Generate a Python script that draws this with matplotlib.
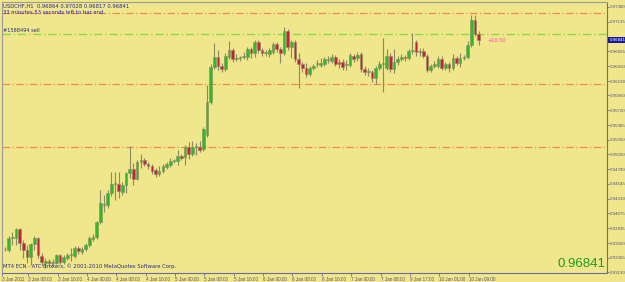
"""USDCHF H1 candlestick chart, MT4 style."""

import matplotlib
matplotlib.use("Agg")
import matplotlib.pyplot as plt
import numpy as np

# ---- data ----
opens = [
    0.93506, 0.93490, 0.93682, 0.93682, 0.93826, 0.93602, 0.93490, 0.93378, 0.93586, 0.93682,
    0.93394, 0.93282, 0.93314, 0.93282, 0.93282, 0.93410, 0.93298, 0.93362, 0.93410, 0.93394,
    0.93522, 0.93458, 0.93506, 0.93570, 0.93666, 0.93698, 0.93938, 0.94210, 0.94210, 0.94402,
    0.94546, 0.94546, 0.94418, 0.94530, 0.94722, 0.94786, 0.94626, 0.94898, 0.94930, 0.94866,
    0.94834, 0.94770, 0.94706, 0.94754, 0.94818, 0.94850, 0.94914, 0.94914, 0.94994, 0.94978,
    0.95138, 0.95026, 0.95138, 0.95138, 0.95106, 0.95330, 0.95858, 0.96418, 0.96578, 0.96434,
    0.96386, 0.96578, 0.96690, 0.96546, 0.96562, 0.96578, 0.96578, 0.96706, 0.96642, 0.96818,
    0.96690, 0.96642, 0.96626, 0.96658, 0.96786, 0.96706, 0.96642, 0.96994, 0.96738, 0.96818,
    0.96546, 0.96466, 0.96402, 0.96306, 0.96402, 0.96466, 0.96450, 0.96466, 0.96530, 0.96514,
    0.96578, 0.96498, 0.96498, 0.96450, 0.96450, 0.96594, 0.96562, 0.96626, 0.96386, 0.96338,
    0.96338, 0.96242, 0.96402, 0.96466, 0.96402, 0.96594, 0.96386, 0.96498, 0.96546, 0.96578,
    0.96562, 0.96674, 0.96818, 0.96658, 0.96674, 0.96594, 0.96370, 0.96434, 0.96434, 0.96546,
    0.96402, 0.96466, 0.96402, 0.96562, 0.96482, 0.96562, 0.96578, 0.96770, 0.97170, 0.96946,
]
highs = [
    0.93538, 0.93714, 0.93778, 0.93842, 0.93842, 0.93650, 0.93570, 0.93602, 0.93714, 0.93698,
    0.93442, 0.93362, 0.93346, 0.93346, 0.93426, 0.93426, 0.93410, 0.93442, 0.93522, 0.93554,
    0.93554, 0.93538, 0.93602, 0.93714, 0.93746, 0.93954, 0.94450, 0.94370, 0.94450, 0.94738,
    0.94738, 0.94738, 0.94578, 0.94738, 0.95154, 0.94882, 0.94930, 0.95026, 0.94962, 0.94898,
    0.94866, 0.94802, 0.94834, 0.94866, 0.94898, 0.94962, 0.94946, 0.95090, 0.95026, 0.95170,
    0.95218, 0.95234, 0.95202, 0.95234, 0.95458, 0.96130, 0.96466, 0.96802, 0.96690, 0.96482,
    0.96642, 0.96834, 0.96722, 0.96626, 0.96594, 0.96658, 0.96738, 0.96738, 0.96850, 0.96850,
    0.96722, 0.96690, 0.96722, 0.96818, 0.96818, 0.96738, 0.97058, 0.97026, 0.96850, 0.96850,
    0.96642, 0.96498, 0.96482, 0.96434, 0.96466, 0.96530, 0.96562, 0.96578, 0.96594, 0.96626,
    0.96610, 0.96546, 0.96546, 0.96530, 0.96642, 0.96626, 0.96658, 0.96658, 0.96434, 0.96402,
    0.96370, 0.96434, 0.96514, 0.96882, 0.96706, 0.96642, 0.96706, 0.96594, 0.96626, 0.96610,
    0.96706, 0.96962, 0.96850, 0.96722, 0.96722, 0.96626, 0.96466, 0.96514, 0.96594, 0.96594,
    0.96498, 0.96498, 0.96626, 0.96594, 0.96642, 0.96610, 0.96834, 0.97250, 0.97250, 0.96994,
]
lows = [
    0.93474, 0.93458, 0.93570, 0.93570, 0.93490, 0.93362, 0.93282, 0.93250, 0.93490, 0.93362,
    0.93234, 0.93202, 0.93234, 0.93234, 0.93266, 0.93266, 0.93266, 0.93330, 0.93314, 0.93362,
    0.93426, 0.93426, 0.93474, 0.93538, 0.93634, 0.93666, 0.93906, 0.94098, 0.94162, 0.94354,
    0.94290, 0.94322, 0.94370, 0.94402, 0.94642, 0.94530, 0.94610, 0.94802, 0.94834, 0.94786,
    0.94706, 0.94658, 0.94674, 0.94722, 0.94786, 0.94818, 0.94882, 0.94850, 0.94930, 0.94850,
    0.94946, 0.94994, 0.95010, 0.95058, 0.95074, 0.95298, 0.95826, 0.96386, 0.96370, 0.96338,
    0.96354, 0.96546, 0.96498, 0.96514, 0.96514, 0.96546, 0.96530, 0.96562, 0.96578, 0.96642,
    0.96594, 0.96594, 0.96578, 0.96626, 0.96658, 0.96482, 0.96610, 0.96690, 0.96562, 0.96498,
    0.96082, 0.96338, 0.96258, 0.96274, 0.96370, 0.96418, 0.96418, 0.96434, 0.96482, 0.96482,
    0.96434, 0.96402, 0.96370, 0.96370, 0.96418, 0.96498, 0.96514, 0.96338, 0.96290, 0.96274,
    0.96178, 0.96146, 0.96370, 0.96018, 0.96370, 0.96338, 0.96322, 0.96450, 0.96514, 0.96514,
    0.96530, 0.96626, 0.96594, 0.96594, 0.96562, 0.96338, 0.96338, 0.96402, 0.96402, 0.96370,
    0.96370, 0.96338, 0.96370, 0.96450, 0.96418, 0.96530, 0.96546, 0.96738, 0.96914, 0.96770,
]
closes = [
    0.93506, 0.93682, 0.93690, 0.93826, 0.93602, 0.93490, 0.93378, 0.93586, 0.93682, 0.93410,
    0.93298, 0.93314, 0.93282, 0.93290, 0.93410, 0.93298, 0.93378, 0.93410, 0.93418, 0.93522,
    0.93474, 0.93506, 0.93570, 0.93682, 0.93698, 0.93938, 0.94242, 0.94218, 0.94402, 0.94546,
    0.94554, 0.94434, 0.94530, 0.94722, 0.94786, 0.94626, 0.94898, 0.94930, 0.94866, 0.94834,
    0.94754, 0.94706, 0.94754, 0.94834, 0.94866, 0.94914, 0.94922, 0.94994, 0.94962, 0.95138,
    0.95026, 0.95138, 0.95146, 0.95090, 0.95426, 0.95858, 0.96418, 0.96578, 0.96434, 0.96386,
    0.96594, 0.96690, 0.96546, 0.96554, 0.96570, 0.96586, 0.96706, 0.96642, 0.96818, 0.96690,
    0.96642, 0.96650, 0.96690, 0.96786, 0.96706, 0.96642, 0.96994, 0.96738, 0.96818, 0.96546,
    0.96466, 0.96402, 0.96306, 0.96402, 0.96434, 0.96474, 0.96482, 0.96546, 0.96538, 0.96578,
    0.96466, 0.96466, 0.96418, 0.96458, 0.96610, 0.96546, 0.96610, 0.96386, 0.96338, 0.96346,
    0.96242, 0.96402, 0.96466, 0.96474, 0.96594, 0.96386, 0.96498, 0.96546, 0.96578, 0.96562,
    0.96674, 0.96682, 0.96658, 0.96666, 0.96594, 0.96370, 0.96434, 0.96466, 0.96546, 0.96402,
    0.96466, 0.96402, 0.96562, 0.96482, 0.96562, 0.96578, 0.96770, 0.97170, 0.96946, 0.96841,
]

x_labels = ["3 Jan 2011", "3 Jan 08:00", "3 Jan 16:00", "4 Jan 00:00", "4 Jan 08:00",
            "4 Jan 16:00", "5 Jan 00:00", "5 Jan 08:00", "5 Jan 16:00", "6 Jan 00:00",
            "6 Jan 08:00", "6 Jan 16:00", "7 Jan 00:00", "7 Jan 08:00", "9 Jan 17:00",
            "10 Jan 01:00", "10 Jan 09:00"]
# price scale labels (the one hidden under the current-price box is left out)
y_ticks = [0.93130, 0.93365, 0.93600, 0.93835, 0.94075, 0.94310, 0.94545, 0.94780,
           0.95020, 0.95250, 0.95485, 0.95720, 0.95960, 0.96190, 0.96430, 0.96665,
           0.97135, 0.97380]

order_line = 0.96946       # "#1588494 sell"
level_lines = [0.97282, 0.96146, 0.95138]
last_price = closes[-1]

# ---- style ----
BG = "#F0E68C"
WICK = "#8c8a62"
BULL = "#2dbb2d"
BEAR = "#c8203c"
AXC = "#6a6aa8"
TXT = "#2a2a86"
SMALL = "Liberation Sans"

fig = plt.figure(figsize=(6.25, 2.82), dpi=100, facecolor=BG)
ax = fig.add_axes([2 / 625, 9.5 / 282, 605 / 625, 270.5 / 282], facecolor=BG)

o = np.array(opens); h = np.array(highs); l = np.array(lows); c = np.array(closes)
idx = np.arange(len(o))
up = c >= o

ax.vlines(idx, l, h, color=WICK, linewidth=0.8, zorder=2)
body_h = np.where(np.abs(c - o) < 1e-5, 1e-5, c - o)
ax.bar(idx[up], body_h[up], bottom=o[up], width=0.72, color=BULL,
       edgecolor=WICK, linewidth=0.4, zorder=3)
ax.bar(idx[~up], body_h[~up], bottom=o[~up], width=0.72, color=BEAR,
       edgecolor=WICK, linewidth=0.4, zorder=3)

# horizontal order / level lines
ax.axhline(order_line, color="#8fd84a", linestyle=(0, (6, 2, 1, 2)), linewidth=1.0, zorder=1)
for lv in level_lines:
    ax.axhline(lv, color="#f08a4a", linestyle=(0, (6, 2, 1, 2)), linewidth=0.9, zorder=1)

ax.set_xlim(-0.82, 164.0)
ax.set_ylim(0.93130, 0.97454)

# axes frame
for side in ["top", "left"]:
    ax.spines[side].set_color("#9a9aa0")
    ax.spines[side].set_linewidth(0.8)
for side in ["right", "bottom"]:
    ax.spines[side].set_color(AXC)
    ax.spines[side].set_linewidth(0.8)

# right price scale
ax.yaxis.tick_right()
ax.set_yticks(y_ticks)
ax.set_yticklabels([f"{v:.5f}" for v in y_ticks], family=SMALL)
ax.tick_params(axis="y", direction="out", length=1.5, width=0.6, colors=AXC,
               labelsize=3.2, labelcolor="#555577", pad=0.8)

# bottom time scale
tick_pos = [-0.8] + [6.3 + 8 * k for k in range(16)]
ax.set_xticks(tick_pos)
ax.set_xticklabels(x_labels, ha="left", family=SMALL)
ax.tick_params(axis="x", direction="out", length=2, width=0.6, colors=AXC,
               labelsize=3.3, labelcolor="#555577", pad=1)

# texts
ax.text(0.002, 0.995, "USDCHF,H1  0.96864 0.97028 0.96817 0.96841",
        transform=ax.transAxes, fontsize=3.8, color=TXT, va="top", ha="left")
ax.text(0.002, 0.972, "33 minutes 53 seconds left to bar end",
        transform=ax.transAxes, fontsize=3.8, color="#2020c0", va="top", ha="left")
ax.text(0.002, order_line + 0.0002, "#1588494 sell", transform=ax.get_yaxis_transform(),
        fontsize=3.6, color=TXT, va="bottom", ha="left")
ax.text(len(o) + 1.5, last_price + 0.00005, "+10.50", fontsize=3.6,
        color="#ff40c0", va="center", ha="left")
ax.text(0.002, 0.012, "MT4 ECN - ATC Brokers, \u00a9 2001-2010 MetaQuotes Software Corp.",
        transform=ax.transAxes, fontsize=3.8, color=TXT, va="bottom", ha="left")
ax.text(0.998, 0.01, f"{last_price:.5f}", transform=ax.transAxes,
        fontsize=9.5, color="#1e9a1e", va="bottom", ha="right", family=SMALL)

# current price marker on scale
ax.text(1.004, last_price, f"{last_price:.5f}", transform=ax.get_yaxis_transform(),
        fontsize=3.2, color="white", va="center", ha="left", family=SMALL,
        bbox=dict(boxstyle="square,pad=0.25", facecolor="#1a1aa0", edgecolor="none"))

fig.savefig("out.png", dpi=100, facecolor=BG)
